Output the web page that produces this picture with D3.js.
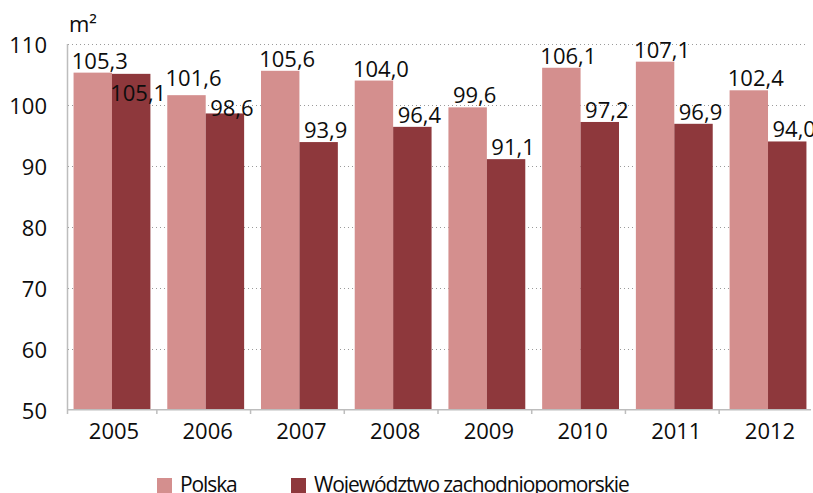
<!DOCTYPE html>
<html>
<head>
<meta charset="utf-8">
<script src="https://cdn.jsdelivr.net/npm/d3@7"></script>
<style>
  body { margin: 0; background: #fff; }
  svg text { font-family: "Open Sans", "Noto Sans", sans-serif; fill: #0d0d0d; }
</style>
</head>
<body>
<div id="chart"></div>
<script>
const years = ["2005", "2006", "2007", "2008", "2009", "2010", "2011", "2012"];
const polska = [105.3, 101.6, 105.6, 104.0, 99.6, 106.1, 107.1, 102.4];
const zachodniopomorskie = [105.1, 98.6, 93.9, 96.4, 91.1, 97.2, 96.9, 94.0];
const seriesNames = ["Polska", "Województwo zachodniopomorskie"];
const seriesColors = ["#d48f8e", "#8e383c"];
const yTicks = [50, 60, 70, 80, 90, 100, 110];

const W = 813, H = 493;
const svg = d3.select('#chart').append('svg')
    .attr('width', W).attr('height', H);

const x = d3.scaleBand().domain(years).range([67, 813])
    .paddingInner(0.18).paddingOuter(0.07);
const xs = d3.scaleBand().domain([0, 1]).range([0, x.bandwidth()]);
const y = d3.scaleLinear().domain([50, 110]).range([409.5, 44]);

const fmt = v => v.toFixed(1).replace('.', ',');

// dotted gridlines
svg.append('g').selectAll('line')
    .data(yTicks.filter(t => t > 50))
    .enter().append('line')
    .attr('x1', 68).attr('x2', 808)
    .attr('y1', d => Math.round(y(d)) + 0.5).attr('y2', d => Math.round(y(d)) + 0.5)
    .attr('stroke', '#9a9a9a').attr('stroke-width', 1)
    .attr('stroke-dasharray', '1,3');

// bars
const series = [polska, zachodniopomorskie];
series.forEach((vals, si) => {
    svg.append('g').selectAll('rect')
        .data(vals)
        .enter().append('rect')
        .attr('x', (d, i) => x(years[i]) + xs(si))
        .attr('width', xs.bandwidth())
        .attr('y', d => y(d))
        .attr('height', d => y(50) - y(d))
        .attr('fill', seriesColors[si]);
});

// axes lines
svg.append('line').attr('x1', 67.5).attr('x2', 67.5).attr('y1', 44).attr('y2', 414)
    .attr('stroke', '#bdbdbd').attr('stroke-width', 1.5);
svg.append('line').attr('x1', 67).attr('x2', 811).attr('y1', 409.75).attr('y2', 409.75)
    .attr('stroke', '#bdbdbd').attr('stroke-width', 1.5);
svg.append('g').selectAll('line')
    .data(years.slice(1))
    .enter().append('line')
    .attr('x1', d => x(d) - x.step() * x.paddingInner() / 2 - 2)
    .attr('x2', d => x(d) - x.step() * x.paddingInner() / 2 - 2)
    .attr('y1', 409).attr('y2', 414)
    .attr('stroke', '#bdbdbd').attr('stroke-width', 1.5);

// y tick labels
svg.append('g').selectAll('text')
    .data(yTicks)
    .enter().append('text')
    .attr('x', 47).attr('y', d => y(d) + 9)
    .attr('text-anchor', 'end')
    .style('font-size', '22px')
    .text(d => d);

// x tick labels
svg.append('g').selectAll('text')
    .data(years)
    .enter().append('text')
    .attr('x', d => x(d) + x.bandwidth() / 2 + 2)
    .attr('y', 439)
    .attr('text-anchor', 'middle')
    .style('font-size', '22px')
    .text(d => d);

// unit
svg.append('text').attr('x', 69).attr('y', 32)
    .style('font-size', '22px').text('m²');

// labels that Excel shifted to avoid collisions: [series, index] -> dy
const nudge = {"1-0": 31, "0-1": -5, "1-1": 7};

// value labels
series.forEach((vals, si) => {
    svg.append('g').selectAll('text')
        .data(vals)
        .enter().append('text')
        .attr('x', (d, i) => x(years[i]) + xs(si) + xs.bandwidth() / 2 + 7)
        .attr('y', (d, i) => y(d) - 4 + (nudge[si + '-' + i] || 0))
        .attr('text-anchor', 'middle')
        .style('font-size', '22px')
        .text(d => fmt(d));
});

// legend
const legend = svg.append('g');
const legendX = [157, 291];
seriesNames.forEach((name, i) => {
    legend.append('rect')
        .attr('x', legendX[i]).attr('y', 478)
        .attr('width', 15).attr('height', 15)
        .attr('fill', seriesColors[i]);
    legend.append('text')
        .attr('x', legendX[i] + 23).attr('y', 492)
        .style('font-size', '21px')
        .style('letter-spacing', '-1.1px')
        .text(name);
});
</script>
</body>
</html>
